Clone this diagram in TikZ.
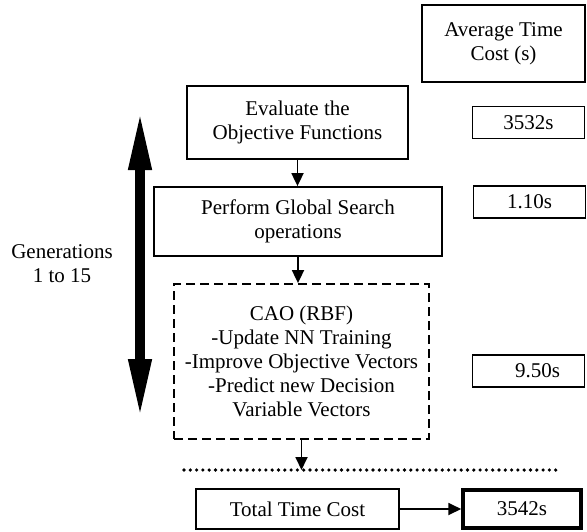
\documentclass[tikz,border=0pt]{standalone}
\usepackage{fontspec}
\setmainfont{Liberation Serif}
\usetikzlibrary{arrows.meta, positioning}

\begin{document}
\begin{tikzpicture}[
    x=1pt, y=-1pt,
    every node/.style={font=\fontsize{21}{24}\selectfont, align=center, inner sep=0pt},
    stage/.style={draw, line width=1.8pt, rectangle},
    cost/.style={draw, line width=1.8pt, rectangle, minimum width=112pt, minimum height=32pt},
    flow/.style={line width=1.8pt, -{Triangle[length=13pt, width=12pt]}}
]
\useasboundingbox (0,0) rectangle (587,531);

% Header
\node[stage, minimum width=163pt, minimum height=77pt] (avg) at (503.5,43.5) {Average Time\\Cost (s)};

% Stages
\node[stage, minimum width=221pt, minimum height=73pt] (eval) at (297.5,122.5) {Evaluate the\\Objective Functions};
\node[stage, minimum width=288pt, minimum height=69pt] (search) at (298,221.5) {Perform Global Search\\operations};
\node[draw, line width=1.8pt, dash pattern=on 9pt off 5pt, minimum width=255pt, minimum height=155pt] (cao) at (301.5,361.5)
    {CAO (RBF)\\-Update NN Training\\-Improve Objective Vectors\\-Predict new Decision\\Variable Vectors};

% Costs
\node[cost] (t1) at (528.5,122.5) {3532s};
\node[cost] (t2) at (529.5,202) {1.10s};
\node[cost] (t3) at (528.5,371) {\hspace{18pt}9.50s};

% Generations loop
\coordinate (gtop) at (140,110);
\coordinate (gbot) at (140,419);
\draw[line width=10pt, {Triangle[length=60pt, width=21pt]}-{Triangle[length=60pt, width=21pt]}] (gtop) -- (gbot);
\node (gen) at (62,264) {Generations\\1 to 15};

% Links
\draw[flow] (eval.south) -- (eval.south |- search.north);
\draw[flow] (search.south) -- (search.south |- cao.north);

% Summary
\coordinate (dl) at (184,470);
\coordinate (dr) at (557,470);
\draw[line width=3.6pt, line cap=round, dash pattern=on 0pt off 6.3pt] (dl) -- (dr);
\draw[flow] (cao.south) -- (cao.south |- dl);

\node[stage, minimum width=203pt, minimum height=40pt] (total) at (297.5,509) {Total Time Cost};
\node[draw, line width=3.5pt, minimum width=118pt, minimum height=38pt] (res) at (522,509) {3542s};
\draw[flow] (total.east) -- (res.west);

\end{tikzpicture}
\end{document}
